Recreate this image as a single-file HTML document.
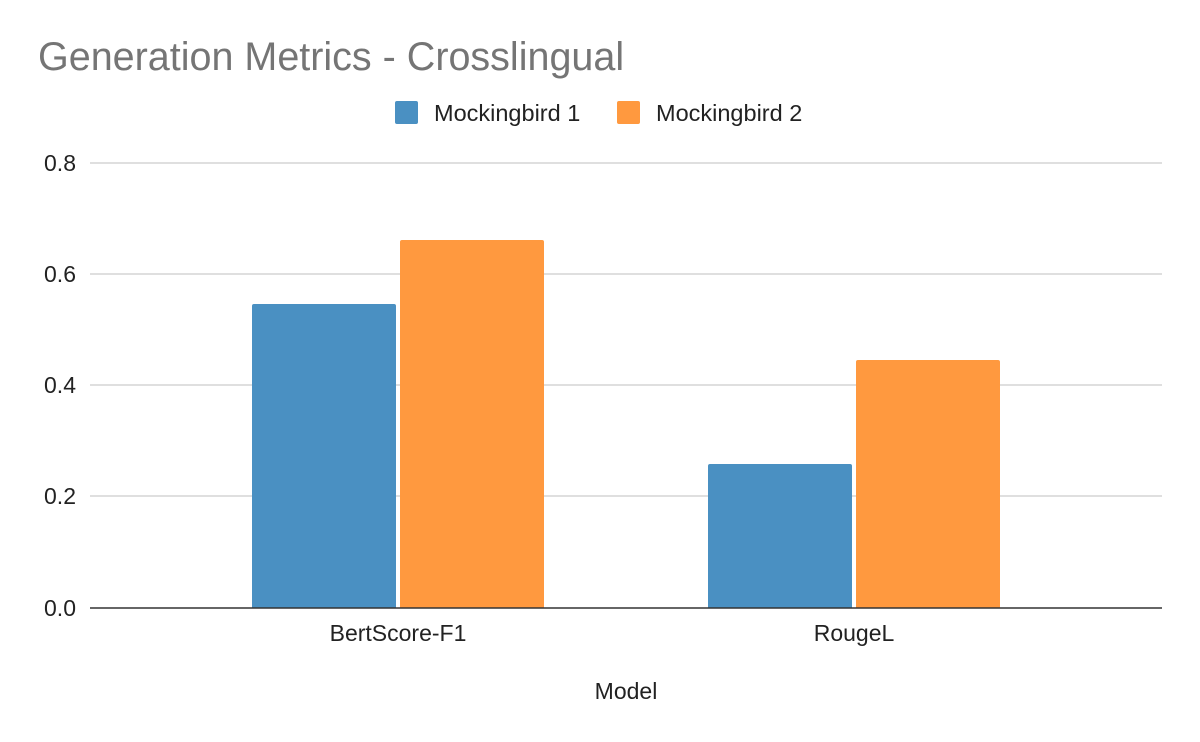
<!DOCTYPE html>
<html><head><meta charset="utf-8"><style>
body{margin:0;background:#fff;}
svg{display:block;font-family:"Liberation Sans",Arial,sans-serif;}
</style></head><body>
<svg width="1200" height="742" viewBox="0 0 1200 742">
<rect width="1200" height="742" fill="#fff"/>
<text x="38" y="70" font-size="39.5" fill="#757575">Generation Metrics - Crosslingual</text>
<rect x="395" y="101" width="23" height="23" rx="2" fill="#4a90c2"/>
<text x="434" y="121" font-size="23.5" fill="#222">Mockingbird 1</text>
<rect x="617" y="101" width="23" height="23" rx="2" fill="#ff993f"/>
<text x="656" y="121" font-size="23.5" fill="#222">Mockingbird 2</text>
<g stroke="#cccccc" stroke-width="1.3">
<line x1="90" y1="163" x2="1162" y2="163"/>
<line x1="90" y1="274" x2="1162" y2="274"/>
<line x1="90" y1="385" x2="1162" y2="385"/>
<line x1="90" y1="496" x2="1162" y2="496"/>
</g>
<g font-size="23" fill="#222" text-anchor="end">
<text x="76" y="171">0.8</text>
<text x="76" y="282">0.6</text>
<text x="76" y="393">0.4</text>
<text x="76" y="504">0.2</text>
<text x="76" y="616">0.0</text>
</g>
<path d="M252 608V306a2 2 0 0 1 2-2h140a2 2 0 0 1 2 2V608Z" fill="#4a90c2"/>
<path d="M400 608V242a2 2 0 0 1 2-2h140a2 2 0 0 1 2 2V608Z" fill="#ff993f"/>
<path d="M708 608V466a2 2 0 0 1 2-2h140a2 2 0 0 1 2 2V608Z" fill="#4a90c2"/>
<path d="M856 608V362a2 2 0 0 1 2-2h140a2 2 0 0 1 2 2V608Z" fill="#ff993f"/>
<line x1="90" y1="608" x2="1162" y2="608" stroke="#333" stroke-width="1.5"/>
<g font-size="23" fill="#222" text-anchor="middle">
<text x="398" y="641">BertScore-F1</text>
<text x="854" y="641">RougeL</text>
<text x="626" y="699">Model</text>
</g>
</svg>
</body></html>
